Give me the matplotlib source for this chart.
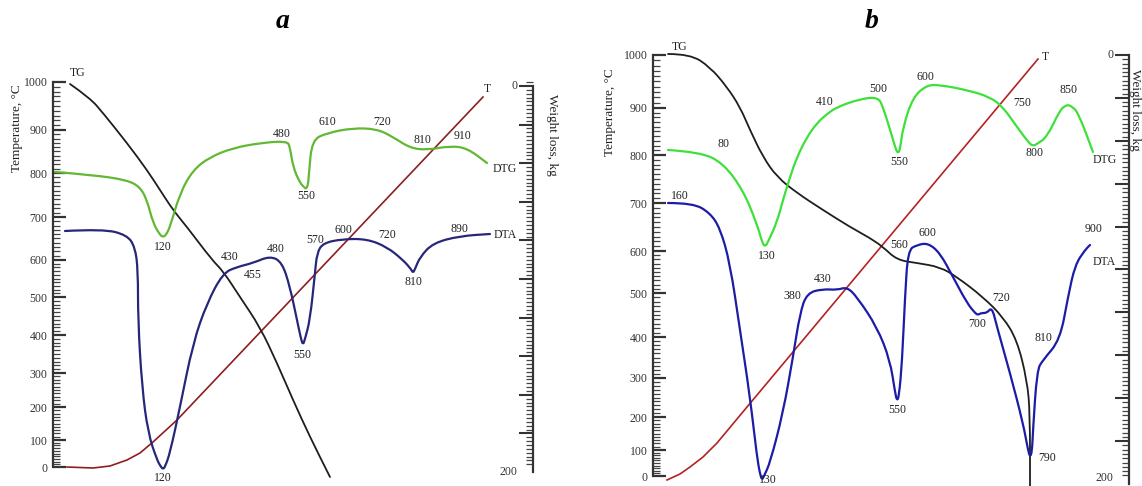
import matplotlib

matplotlib.use("Agg")
import matplotlib.pyplot as plt
import numpy as np
from matplotlib.patches import PathPatch
from matplotlib.path import Path
from matplotlib.ticker import FixedLocator, MultipleLocator, NullFormatter

plt.rcParams["font.family"] = ["Liberation Serif", "DejaVu Serif"]

W_PX, H_PX = 1142, 486

# hand-drawn temperature rulers are not linear: label value -> height on the panel
TEMP_TICKS = [0, 100, 200, 300, 400, 500, 600, 700, 800, 900, 1000]
A_TEMP_POS = [0, 27, 60, 94, 132, 170, 207, 250, 294, 337, 385]
B_TEMP_POS = [0, 26, 59, 98, 139, 183, 225, 273, 321, 368, 421]

# ---------------- panel a (heights in panel units, 0 = 0 degC) ----------------
a_tg_x = [17, 37, 50, 74, 94, 107, 120, 134, 159, 170, 187, 207, 224, 240, 257, 277]
a_tg_y = [383, 369, 354, 324, 297, 277, 257, 240, 207, 196, 170, 140, 104, 67, 30, -10]

a_dtg_x = [2, 40, 74, 87, 94, 100, 107, 110, 113, 117, 127, 140, 157, 180, 207, 234, 237,
           240, 247, 251, 253, 255, 256, 259, 274, 300, 324, 340, 357, 374, 397, 414, 434]
a_dtg_y = [295, 292, 287, 280, 267, 244, 232, 230, 232, 240, 274, 297, 310, 319, 324, 326,
           320, 300, 284, 280, 278, 282, 294, 327, 334, 339, 338, 330, 319, 317, 321, 319, 304]

a_dta_x = [12, 50, 74, 82, 85, 85, 89, 95, 104, 108, 110, 112, 117, 127, 140, 154, 170, 184,
           200, 217, 229, 237, 244, 248, 250, 252, 257, 262, 264, 270, 290, 314, 334, 350,
           358, 360, 362, 367, 380, 407, 437]
a_dta_y = [236, 238, 232, 220, 197, 147, 80, 34, 7, 0, -2, 0, 14, 60, 124, 164, 194, 200,
           204, 211, 205, 180, 147, 128, 122, 128, 147, 194, 214, 224, 228, 228, 220, 207,
           198, 194, 198, 210, 224, 231, 233]

a_t_x = [14, 40, 57, 74, 87, 100, 112, 124, 430]
a_t_y = [0, -1, 1, 7, 14, 25, 36, 47, 370]

a_dtg_marks = ["120", "480", "550", "610", "720", "810", "910"]
a_dtg_mx = [110, 229, 253, 274, 329, 369, 410]
a_dtg_my = [220, 333, 271, 345, 345, 327, 331]

a_dta_marks = ["120", "430", "455", "480", "550", "570", "600", "720", "810", "890"]
a_dta_mx = [110, 177, 200, 223, 249, 262, 290, 334, 360, 406]
a_dta_my = [-11, 210, 192, 218, 112, 227, 237, 232, 185, 238]

# ---------------- panel b ----------------
b_tg_x = [15, 37, 57, 74, 87, 97, 110, 124, 144, 170, 197, 217, 230, 244, 264, 287,
          304, 330, 350, 364, 374, 377, 377]
b_tg_y = [422, 422, 409, 389, 369, 346, 319, 299, 283, 266, 249, 238, 229, 216, 213, 209,
          199, 179, 159, 136, 96, 63, -12]

b_dtg_x = [15, 47, 70, 90, 104, 109, 112, 115, 124, 130, 137, 144, 154, 164, 174, 184,
           207, 225, 230, 239, 243, 245, 247, 250, 260, 274, 287, 314, 337, 350, 364, 376,
           380, 384, 394, 407, 412, 415, 418, 425, 440]
b_dtg_y = [326, 324, 313, 286, 252, 234, 229, 234, 254, 276, 299, 319, 339, 353, 362, 369,
           377, 379, 369, 340, 326, 323, 326, 349, 379, 391, 391, 386, 379, 369, 349, 333,
           330, 332, 339, 366, 370, 371, 370, 364, 324]

b_dta_x = [15, 40, 57, 67, 77, 87, 97, 104, 107, 109, 111, 117, 130, 140, 147, 154, 170,
           184, 194, 204, 224, 237, 242, 244, 246, 249, 252, 255, 264, 275, 287, 300, 314,
           322, 325, 328, 334, 339, 344, 357, 370, 375, 377, 379, 380, 384, 390, 407, 415,
           422, 432, 437]
b_dta_y = [273, 273, 263, 248, 213, 146, 79, 19, 2, -4, 0, 13, 63, 119, 163, 183, 187,
           186, 189, 179, 149, 116, 84, 75, 80, 113, 179, 226, 231, 233, 223, 199, 173,
           163, 161, 163, 163, 169, 149, 103, 53, 26, 19, 24, 46, 106, 116, 136, 179,
           211, 226, 231]

b_t_x = [14, 27, 37, 50, 64, 79, 94, 385]
b_t_y = [-4, 2, 9, 19, 33, 51, 69, 417]

b_dtg_marks = ["80", "130", "410", "500", "550", "600", "750", "800", "850"]
b_dtg_mx = [70, 114, 172, 225, 246, 272, 369, 382, 415]
b_dtg_my = [332, 220, 374, 387, 314, 399, 373, 323, 386]

b_dta_marks = ["160", "130", "380", "430", "550", "560", "600", "700", "720", "790", "810", "900"]
b_dta_mx = [27, 115, 139, 170, 244, 246, 274, 324, 348, 394, 390, 441]
b_dta_my = [280, -4, 180, 197, 66, 231, 243, 152, 178, 18, 138, 247]

WEIGHT_TICKS = [0, 200]

PANELS = [
    dict(name="a", box=(53, 533, 82, 467), w0=381, w200=-5, temp_pos=A_TEMP_POS,
         tg=(a_tg_x, a_tg_y), dtg=(a_dtg_x, a_dtg_y), dta=(a_dta_x, a_dta_y), t=(a_t_x, a_t_y),
         dtg_marks=(a_dtg_marks, a_dtg_mx, a_dtg_my), dta_marks=(a_dta_marks, a_dta_mx, a_dta_my),
         c_dtg="#62b832", c_dta="#27277a", c_t="#8e1f1f", w200_dy=0,
         tg_lab=(25, 394), t_lab=(434, 378), dtg_lab=(452, 298), dta_lab=(452, 232),
         title_x=283, temp_lab=(17, 128), wl_lab=(552, 135)),
    dict(name="b", box=(653, 1129, 55, 476), w0=421, w200=-8, temp_pos=B_TEMP_POS,
         tg=(b_tg_x, b_tg_y), dtg=(b_dtg_x, b_dtg_y), dta=(b_dta_x, b_dta_y), t=(b_t_x, b_t_y),
         dtg_marks=(b_dtg_marks, b_dtg_mx, b_dtg_my), dta_marks=(b_dta_marks, b_dta_mx, b_dta_my),
         c_dtg="#3ee03a", c_dta="#1c1ca6", c_t="#b52222", w200_dy=4,
         tg_lab=(27, 429), t_lab=(392, 419), dtg_lab=(452, 316), dta_lab=(451, 214),
         title_x=872, temp_lab=(610, 112), wl_lab=(1135, 110)),
]


def smooth_curve(ax, xs, ys, color, lw):
    """Draw the read points as a smooth quadratic path (points act as control points)."""
    pts = np.column_stack([xs, ys]).astype(float)
    verts = [pts[0]]
    codes = [Path.MOVETO]
    for i in range(1, len(pts) - 1):
        verts += [pts[i], (pts[i] + pts[i + 1]) / 2]
        codes += [Path.CURVE3, Path.CURVE3]
    verts.append(pts[-1])
    codes.append(Path.LINETO)
    patch = PathPatch(Path(verts, codes), facecolor="none", edgecolor=color, lw=lw,
                      capstyle="round", joinstyle="round", clip_on=False, zorder=3)
    ax.add_patch(patch)


fig = plt.figure(figsize=(W_PX / 100, H_PX / 100), dpi=100)
TXT = dict(fontsize=8.5, color="#222222", ha="center", va="center", clip_on=False)

for p in PANELS:
    left, right, top, bottom = p["box"]
    ax = fig.add_axes([left / W_PX, 1 - bottom / H_PX,
                       (right - left) / W_PX, (bottom - top) / H_PX])
    ax.set_xlim(0, right - left)
    ax.set_ylim(0, bottom - top)
    ax.patch.set_alpha(0)
    for s in ("top", "bottom", "right"):
        ax.spines[s].set_visible(False)
    ax.spines["left"].set_linewidth(1.6)
    ax.spines["left"].set_color("#333333")
    ax.set_xticks([])

    # temperature ruler
    pos = p["temp_pos"]
    ax.yaxis.set_major_locator(FixedLocator(pos))
    ax.set_yticklabels([str(t) for t in TEMP_TICKS])
    ax.yaxis.set_minor_locator(FixedLocator(np.interp(np.arange(0, 1001, 10), TEMP_TICKS, pos)))
    ax.tick_params(axis="y", which="major", direction="in", length=9, width=1.6,
                   pad=4, labelsize=8.5, colors="#333333")
    ax.tick_params(axis="y", which="minor", direction="in", length=5, width=0.9,
                   colors="#444444")

    # weight loss ruler
    ax2 = ax.twinx()
    span = p["w0"] - p["w200"]
    ax2.set_ylim(p["w0"] / span * 200, (p["w0"] - (bottom - top)) / span * 200)
    for s in ("top", "bottom", "left"):
        ax2.spines[s].set_visible(False)
    ax2.spines["right"].set_bounds(0, 200)
    ax2.spines["right"].set_linewidth(1.6)
    ax2.spines["right"].set_color("#333333")
    ax2.yaxis.set_major_locator(MultipleLocator(20))
    ax2.yaxis.set_minor_locator(MultipleLocator(2))
    ax2.yaxis.set_major_formatter(NullFormatter())
    ax2.tick_params(axis="y", which="major", direction="in", length=10, width=1.5,
                    colors="#333333")
    ax2.tick_params(axis="y", which="minor", direction="in", length=5, width=0.9,
                    colors="#444444")
    for w in WEIGHT_TICKS:
        dy = p["w200_dy"] if w == 200 else 0
        ax2.annotate(str(w), xy=(1, w), xycoords=ax2.get_yaxis_transform(),
                     xytext=(-11, dy), textcoords="offset points", ha="right", va="center",
                     fontsize=8.5, color="#333333", annotation_clip=False)

    # curves
    ax.plot(*p["t"], color=p["c_t"], lw=1.2, clip_on=False, zorder=2)
    smooth_curve(ax, *p["tg"], "#1e1e1e", 1.3)
    smooth_curve(ax, *p["dtg"], p["c_dtg"], 1.6)
    smooth_curve(ax, *p["dta"], p["c_dta"], 1.6)

    for labels, xs, ys in (p["dtg_marks"], p["dta_marks"]):
        for s, x, y in zip(labels, xs, ys):
            ax.text(x, y, s, **TXT)
    ax.text(*p["tg_lab"], "TG", **TXT)
    ax.text(*p["t_lab"], "T", **TXT)
    ax.text(*p["dtg_lab"], "DTG", **TXT)
    ax.text(*p["dta_lab"], "DTA", **TXT)

    fig.text(p["title_x"] / W_PX, 1 - 22 / H_PX, p["name"], fontsize=20,
             fontweight="bold", fontstyle="italic", ha="center", va="center")
    tx, ty = p["temp_lab"]
    fig.text(tx / W_PX, 1 - ty / H_PX, "Temperature, °C", rotation=90, fontsize=9.5,
             ha="center", va="center", color="#222222")
    wx, wy = p["wl_lab"]
    fig.text(wx / W_PX, 1 - wy / H_PX, "Weight loss, kg", rotation=-90, fontsize=9.5,
             ha="center", va="center", color="#222222")

fig.savefig("out.png", dpi=100)
